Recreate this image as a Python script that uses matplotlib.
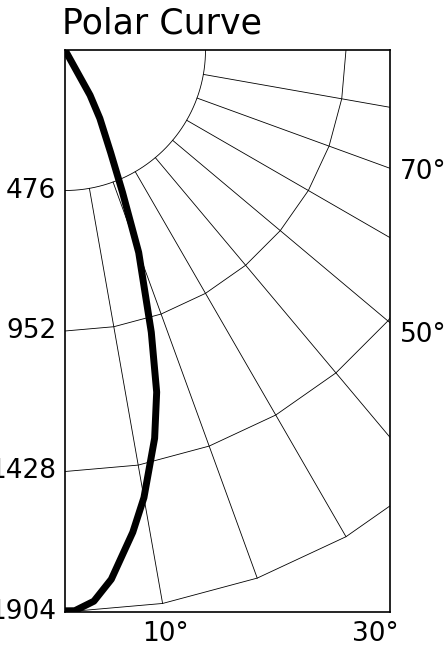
import numpy as np
import matplotlib.pyplot as plt

plt.rcParams['font.family'] = ['Liberation Sans Narrow', 'DejaVu Sans']

# rings and radial grid
rings = [476, 952, 1428, 1904]
ring_labels = ["476", "952", "1428", "1904"]
spokes_deg = [10, 20, 30, 40, 50, 60, 70, 80]

# intensity curve (angle from nadir, cd)
curve_deg = [0, 1, 3, 5, 8, 10, 13, 15, 17, 20, 22, 24, 27, 29, 32]
curve_cd = [1900, 1900, 1870, 1800, 1650, 1540, 1350, 1200, 1000, 730, 520, 380, 260, 175, 0]

fig = plt.figure(figsize=(4.46, 6.55), dpi=100)
ax = fig.add_axes([65/446, 43/655, 325/446, 562/655])
xmax = 1904 * 325 / 562
ax.set_xlim(0, xmax)
ax.set_ylim(1904, 0)

def pol(r, deg):
    t = np.radians(deg)
    return r * np.sin(t), r * np.cos(t)

for i, r in enumerate(rings):
    step = 2 if i == 0 else 10
    a = np.arange(0, 91, step)
    x, y = pol(r, a)
    ax.plot(x, y, color='black', lw=0.6)
for d in spokes_deg:
    x, y = pol(np.array([476, 1904]), d)
    ax.plot(x, y, color='black', lw=0.6)

x, y = pol(np.array(curve_cd), np.array(curve_deg))
ax.plot(x, y, color='black', lw=5, solid_capstyle='round', solid_joinstyle='round')

ax.set_xticks([])
ax.set_yticks([])
for s in ax.spines.values():
    s.set_linewidth(1.2)

fs = 19
for r, lab in zip(rings, ring_labels):
    ax.text(-30, r, lab, ha='right', va='center', fontsize=fs, clip_on=False)
fig.text(400/446, 1 - 172/655, "70°", fontsize=fs, ha='left', va='center')
fig.text(400/446, 1 - 335/655, "50°", fontsize=fs, ha='left', va='center')
fig.text(165/446, 1 - 634/655, "10°", fontsize=fs, ha='center', va='center')
fig.text(375/446, 1 - 634/655, "30°", fontsize=fs, ha='center', va='center')
fig.text(62/446, 1 - 24/655, "Polar Curve", fontsize=25, ha='left', va='center')

fig.savefig("out.png", dpi=100)
